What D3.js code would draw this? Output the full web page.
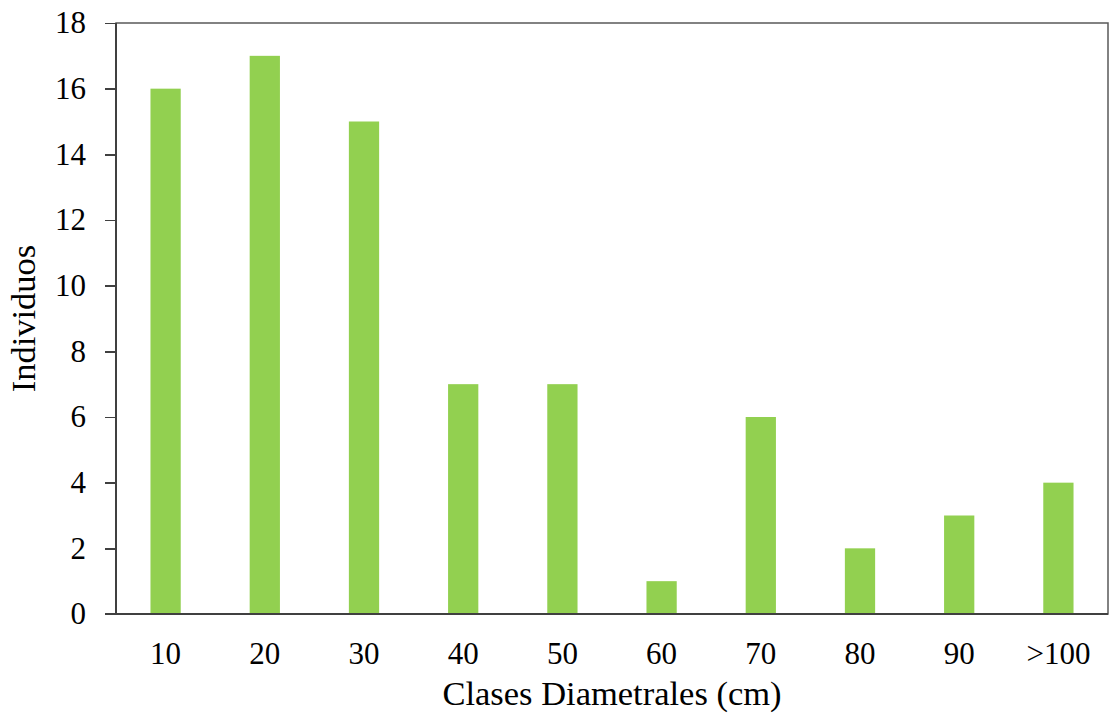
<!DOCTYPE html>
<html lang="es">
<head>
<meta charset="UTF-8">
<title>Clases Diametrales</title>
<script src="https://d3js.org/d3.v7.min.js"></script>
<style>
  body { margin: 0; background: #fff; }
  text { font-family: "Liberation Serif", "Times New Roman", serif; fill: #000; }
  .axis path, .axis line { stroke: #404040; stroke-width: 1.5px; shape-rendering: crispEdges; }
  .axis text { font-size: 31px; }
</style>
</head>
<body>
<div id="chart"></div>
<script>
// data
var categories = ["10", "20", "30", "40", "50", "60", "70", "80", "90", ">100"];
var individuos = [16, 17, 15, 7, 7, 1, 6, 2, 3, 4];
var yTicks = [0, 2, 4, 6, 8, 10, 12, 14, 16, 18];

var W = 1110, H = 722;
var margin = {top: 23, right: 2, bottom: 108, left: 116};
var width = W - margin.left - margin.right,
    height = H - margin.top - margin.bottom;

var svg = d3.select("#chart").append("svg")
    .attr("width", W).attr("height", H)
  .append("g")
    .attr("transform", "translate(" + margin.left + "," + margin.top + ")");

var x = d3.scaleBand().domain(categories).range([0, width]).padding(0);
var y = d3.scaleLinear().domain([0, 18]).range([height, 0]);

// frame (top + right)
svg.append("rect")
    .attr("x", 0).attr("y", 0)
    .attr("width", width).attr("height", height)
    .attr("fill", "none")
    .attr("stroke", "#595959")
    .attr("stroke-width", 1.5);

// bars
var barW = x.bandwidth() * 0.305;
svg.selectAll(".bar")
    .data(individuos)
    .enter().append("rect")
    .attr("class", "bar")
    .attr("x", (d, i) => x(categories[i]) + (x.bandwidth() - barW) / 2)
    .attr("y", d => y(d))
    .attr("width", barW)
    .attr("height", d => height - y(d))
    .attr("fill", "#92D050");

// y axis
svg.append("g")
    .attr("class", "axis")
    .call(d3.axisLeft(y).tickValues(yTicks).tickSize(11).tickSizeOuter(0).tickPadding(19))
    .call(g => g.select(".domain").remove())
    .call(g => g.append("line").attr("x1", 0).attr("x2", 0).attr("y1", 0).attr("y2", height)
        .attr("stroke", "#404040").attr("stroke-width", 1.5));

// x axis
svg.append("g")
    .attr("class", "axis")
    .attr("transform", "translate(0," + height + ")")
    .call(d3.axisBottom(x).tickSize(0).tickPadding(28))
    .call(g => g.select(".domain").remove())
    .call(g => g.append("line").attr("x1", -11).attr("x2", width).attr("y1", 0).attr("y2", 0)
        .attr("stroke", "#404040").attr("stroke-width", 1.5));

// axis titles
svg.append("text")
    .attr("x", width / 2)
    .attr("y", height + 91)
    .attr("text-anchor", "middle")
    .style("font-size", "34.5px")
    .text("Clases Diametrales (cm)");

svg.append("text")
    .attr("transform", "rotate(-90)")
    .attr("x", -height / 2)
    .attr("y", -81)
    .attr("text-anchor", "middle")
    .style("font-size", "34.5px")
    .text("Individuos");
</script>
</body>
</html>
